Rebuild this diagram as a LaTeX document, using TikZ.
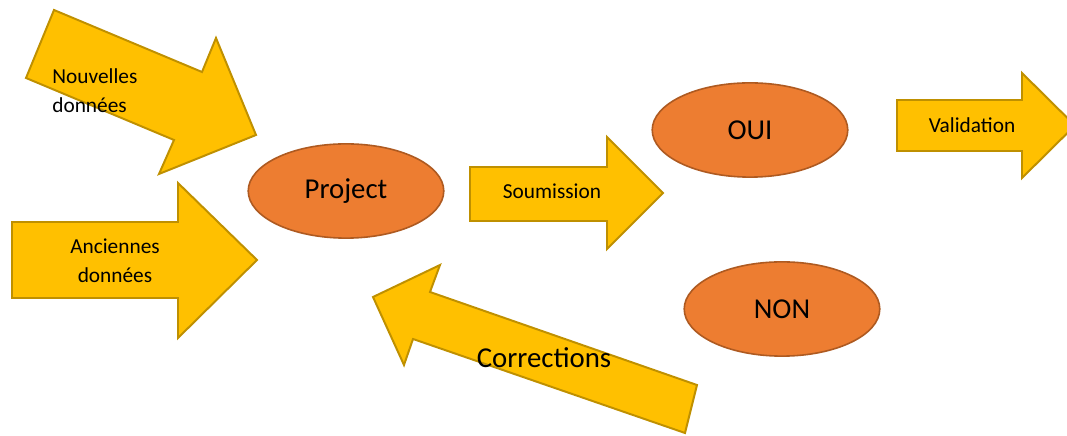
\documentclass[tikz,border=0pt]{standalone}
\usepackage{fontspec}
\setmainfont{Carlito}
\usetikzlibrary{shapes.geometric}
\definecolor{jaune}{HTML}{FFC000}
\definecolor{bordjaune}{HTML}{BF9000}
\definecolor{orange}{HTML}{ED7D31}
\definecolor{bordorange}{HTML}{AE5A21}
\tikzset{
  fleche/.style={fill=jaune,draw=bordjaune,line width=1.1pt,line join=miter},
  bulle/.style={ellipse,fill=orange,draw=bordorange,line width=0.9pt,
    minimum width=110pt,minimum height=53pt,inner sep=0pt,
    font=\fontsize{16.2}{19}\selectfont},
  petit/.style={font=\fontsize{12}{16.3}\selectfont,inner sep=0pt},
  grand/.style={font=\fontsize{16.2}{19}\selectfont,inner sep=0pt}
}
\begin{document}
\begin{tikzpicture}[x=0.5625pt,y=-0.5625pt]
  \useasboundingbox (0,0) rectangle (1067,436);
  % Nouvelles donnees
  \draw [fleche] (54,10) -- (202,72) -- (216,38) -- (256,135) -- (159,174) -- (174,140) -- (26,78) -- cycle;
  % Anciennes donnees
  \draw [fleche] (12,222) -- (178,222) -- (178,183) -- (257,260) -- (178,338) -- (178,298) -- (12,298) -- cycle;
  % Soumission
  \draw [fleche] (470,167) -- (607,167) -- (607,137) -- (663,193) -- (607,249) -- (607,221) -- (470,221) -- cycle;
  % Validation
  \draw [fleche] (897,100) -- (1022,100) -- (1022,73) -- (1075,125.5) -- (1022,178) -- (1022,151) -- (897,151) -- cycle;
  % Corrections
  \draw [fleche] (697,385) -- (430,292) -- (440,265) -- (373,297) -- (404,365) -- (413,339) -- (685,433) -- cycle;

  \node [bulle] (projet) at (346,191) {Project};
  \node [bulle] (oui) at (750,130) {OUI};
  \node [bulle] (non) at (782,309) {NON};

  \node [petit,align=left,anchor=west] (nouvelles) at (52,91) {Nouvelles\\données};
  \node [petit,align=center] (anciennes) at (115,261) {Anciennes\\données};
  \node [petit] (soumission) at (552,191) {Soumission};
  \node [petit] (validation) at (972,125) {Validation};
  \node [grand] (corrections) at (544,358) {Corrections};
\end{tikzpicture}
\end{document}
